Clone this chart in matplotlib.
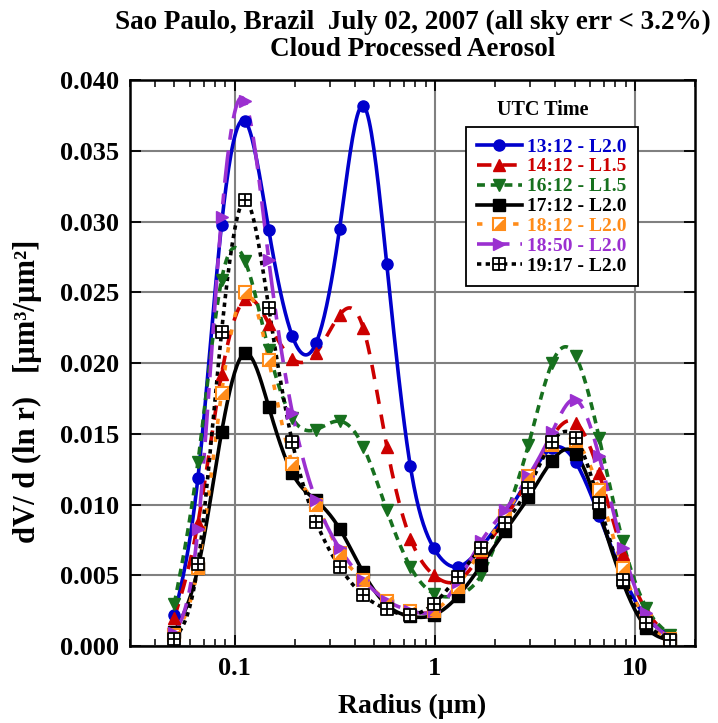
import matplotlib
matplotlib.use("Agg")
import matplotlib.pyplot as plt
import numpy as np
from matplotlib.path import Path
from matplotlib.ticker import FixedLocator, FixedFormatter, MultipleLocator, LogLocator, NullFormatter
from matplotlib.legend_handler import HandlerTuple

plt.rcParams['font.family'] = ['Liberation Serif', 'DejaVu Serif']
plt.rcParams['font.weight'] = 'bold'

# AERONET radius bins (um)
radius = [0.05, 0.065604, 0.086077, 0.112939, 0.148184, 0.194429, 0.255105, 0.334716,
          0.439173, 0.576227, 0.756052, 0.991996, 1.301571, 1.707757, 2.240702, 2.939966,
          3.857452, 5.06126, 6.640745, 8.713145, 11.432287, 15.0]

t1312 = [0.0022, 0.0119, 0.0298, 0.0371, 0.0294, 0.0219, 0.0214, 0.0295, 0.0382, 0.0270, 0.0127,
         0.0069, 0.0056, 0.0070, 0.0092, 0.0118, 0.0140, 0.0130, 0.0092, 0.0050, 0.0020, 0.0008]
t1412 = [0.0020, 0.0087, 0.0192, 0.0245, 0.0228, 0.0203, 0.0207, 0.0234, 0.0225, 0.0141, 0.0076,
         0.0050, 0.0046, 0.0065, 0.0090, 0.0118, 0.0148, 0.0158, 0.0122, 0.0065, 0.0025, 0.0007]
t1612 = [0.0030, 0.0130, 0.0259, 0.0272, 0.0209, 0.0161, 0.0153, 0.0159, 0.0141, 0.0096, 0.0056,
         0.0037, 0.0036, 0.0050, 0.0090, 0.0142, 0.0200, 0.0205, 0.0147, 0.0074, 0.0027, 0.0008]
t1712 = [0.0010, 0.0055, 0.0151, 0.0207, 0.0169, 0.0122, 0.0103, 0.0083, 0.0052, 0.0029, 0.0021,
         0.0022, 0.0035, 0.0057, 0.0081, 0.0105, 0.0131, 0.0136, 0.0095, 0.0045, 0.0013, 0.0004]
t1812 = [0.0008, 0.0055, 0.0179, 0.0250, 0.0202, 0.0129, 0.0100, 0.0066, 0.0047, 0.0032, 0.0025,
         0.0025, 0.0042, 0.0068, 0.0092, 0.0120, 0.0142, 0.0145, 0.0110, 0.0055, 0.0018, 0.0005]
t1850 = [0.0009, 0.0083, 0.0303, 0.0385, 0.0273, 0.0165, 0.0103, 0.0069, 0.0047, 0.0032, 0.0025,
         0.0025, 0.0045, 0.0074, 0.0096, 0.0120, 0.0151, 0.0174, 0.0134, 0.0069, 0.0023, 0.0006]
t1917 = [0.0005, 0.0058, 0.0222, 0.0315, 0.0239, 0.0144, 0.0088, 0.0056, 0.0036, 0.0026, 0.0022,
         0.0030, 0.0049, 0.0069, 0.0087, 0.0112, 0.0144, 0.0147, 0.0101, 0.0047, 0.0016, 0.0004]

labels = ["13:12 - L2.0", "14:12 - L1.5", "16:12 - L1.5", "17:12 - L2.0",
          "18:12 - L2.0", "18:50 - L2.0", "19:17 - L2.0"]


def spline(x, y, n=20):
    # natural cubic spline in log10(r), only used to draw the smooth curve
    t = np.log10(x)
    y = np.asarray(y)
    h = np.diff(t)
    m = len(t)
    A = np.zeros((m, m))
    b = np.zeros(m)
    A[0, 0] = A[-1, -1] = 1
    for i in range(1, m - 1):
        A[i, i - 1] = h[i - 1]
        A[i, i] = 2 * (h[i - 1] + h[i])
        A[i, i + 1] = h[i]
        b[i] = 6 * ((y[i + 1] - y[i]) / h[i] - (y[i] - y[i - 1]) / h[i - 1])
    M = np.linalg.solve(A, b)
    ts, ys = [], []
    for i in range(m - 1):
        s = np.linspace(t[i], t[i + 1], n, endpoint=False)
        a = (t[i + 1] - s) / h[i]
        c = (s - t[i]) / h[i]
        v = a * y[i] + c * y[i + 1] + ((a ** 3 - a) * M[i] + (c ** 3 - c) * M[i + 1]) * h[i] ** 2 / 6
        ts.extend(s)
        ys.extend(v)
    ts.append(t[-1])
    ys.append(y[-1])
    return 10 ** np.array(ts), np.array(ys)


grid_marker = Path([(-1, -1), (1, -1), (1, 1), (-1, 1), (-1, -1), (0, -1), (0, 1), (-1, 0), (1, 0)],
                   [Path.MOVETO, Path.LINETO, Path.LINETO, Path.LINETO, Path.CLOSEPOLY,
                    Path.MOVETO, Path.LINETO, Path.MOVETO, Path.LINETO])
half_marker = Path([(-1, -1), (1, -1), (1, 1), (-1, -1)],
                   [Path.MOVETO, Path.LINETO, Path.LINETO, Path.CLOSEPOLY])

fig = plt.figure(figsize=(7.18, 7.23), dpi=100)
ax = fig.add_axes([0.181, 0.1065, 0.787, 0.7825])

lw = 2.6
handles = []

# 13:12
xs, ys = spline(radius, t1312)
ax.plot(xs, ys, color='#0000cc', lw=lw, zorder=3)
ax.plot(radius, t1312, 'o', color='#0000cc', ms=8, zorder=4)
h, = ax.plot([], [], color='#0000cc', lw=lw, marker='o', ms=8)
handles.append(h)

# 14:12
xs, ys = spline(radius, t1412)
ax.plot(xs, ys, color='#cc0000', lw=lw, dashes=(4, 3), zorder=3)
ax.plot(radius, t1412, '^', color='#cc0000', ms=9, zorder=4)
h, = ax.plot([], [], color='#cc0000', lw=lw, dashes=(4, 3), marker='^', ms=9)
handles.append(h)

# 16:12
xs, ys = spline(radius, t1612)
ax.plot(xs, ys, color='#17701e', lw=lw, dashes=(2.2, 1.6), zorder=3)
ax.plot(radius, t1612, 'v', color='#17701e', ms=9, zorder=4)
h, = ax.plot([], [], color='#17701e', lw=lw, dashes=(2.2, 1.6), marker='v', ms=9)
handles.append(h)

# 17:12
xs, ys = spline(radius, t1712)
ax.plot(xs, ys, color='black', lw=lw, zorder=3)
ax.plot(radius, t1712, 's', color='black', ms=8, zorder=4)
h, = ax.plot([], [], color='black', lw=lw, marker='s', ms=8)
handles.append(h)

# 18:12
xs, ys = spline(radius, t1812)
ax.plot(xs, ys, color='#ff8c1a', lw=lw, dashes=(1.5, 3.5), zorder=3)
ax.plot(radius, t1812, 's', mfc='white', mec='#ff8c1a', mew=1.5, ms=8, zorder=4)
ax.plot(radius, t1812, marker=half_marker, ls='none', color='#ff8c1a', ms=6, zorder=5)
h1, = ax.plot([], [], color='#ff8c1a', lw=lw, dashes=(1.5, 3.5), marker='s', mfc='white',
              mec='#ff8c1a', mew=1.5, ms=8)
h2, = ax.plot([], [], marker=half_marker, ls='none', color='#ff8c1a', ms=6)
handles.append((h1, h2))

# 18:50
xs, ys = spline(radius, t1850)
ax.plot(xs, ys, color='#9b30d0', lw=lw, dashes=(9, 3, 3, 3), zorder=3)
ax.plot(radius, t1850, '>', color='#9b30d0', ms=9, zorder=4)
h, = ax.plot([], [], color='#9b30d0', lw=lw, dashes=(9, 3, 3, 3), marker='>', ms=9)
handles.append(h)

# 19:17
xs, ys = spline(radius, t1917)
ax.plot(xs, ys, color='black', lw=lw, dashes=(1.2, 1.2), zorder=3)
ax.plot(radius, t1917, marker=grid_marker, ls='none', mfc='white', mec='black', mew=1.3, ms=9, zorder=6)
h, = ax.plot([], [], color='black', lw=lw, dashes=(1.2, 1.2), marker=grid_marker,
             mfc='white', mec='black', mew=1.3, ms=9)
handles.append(h)

ax.set_xscale('log')
ax.set_xlim(0.03, 20)
ax.set_ylim(0, 0.04)

ax.xaxis.set_major_locator(FixedLocator([0.1, 1, 10]))
ax.xaxis.set_major_formatter(FixedFormatter(['0.1', '1', '10']))
ax.xaxis.set_minor_locator(LogLocator(base=10, subs=np.arange(2, 10)))
ax.xaxis.set_minor_formatter(NullFormatter())
ax.yaxis.set_major_locator(MultipleLocator(0.005))
ax.yaxis.set_major_formatter(plt.FuncFormatter(lambda v, p: f"{v:.3f}"))

ax.tick_params(which='both', direction='in', top=True, right=True, labelsize=19, pad=8)
ax.tick_params(which='major', length=8, width=1.3)
ax.tick_params(which='minor', length=5, width=1.1)
for lab in ax.get_xticklabels() + ax.get_yticklabels():
    lab.set_fontweight('bold')

ax.grid(True, which='major', color='#808080', lw=1.5, zorder=1)
for s in ax.spines.values():
    s.set_linewidth(1.8)

ax.set_xlabel('Radius (µm)', fontsize=20, fontweight='bold', labelpad=10)
ax.set_ylabel('dV/ d (ln r)   [µm³/µm²]', fontsize=22, fontweight='bold')
ax.yaxis.set_label_coords(-0.155, 0.45)
fig.suptitle('Sao Paulo, Brazil  July 02, 2007 (all sky err < 3.2%)\nCloud Processed Aerosol',
             x=0.575, y=0.987, fontsize=19.5, fontweight='bold', linespacing=1.15)

leg = ax.legend(handles, labels, loc='upper left', bbox_to_anchor=(0.595, 0.917),
                borderaxespad=0,
                handler_map={tuple: HandlerTuple(ndivide=1, pad=0)},
                prop={'size': 14, 'weight': 'bold'}, handlelength=2.3, handletextpad=0.3,
                labelspacing=0.12, borderpad=0.55, fancybox=False, framealpha=1,
                edgecolor='black')
leg.get_frame().set_linewidth(1.3)
colors = ['#0000cc', '#cc0000', '#17701e', 'black', '#ff8c1a', '#9b30d0', 'black']
for txt, c in zip(leg.get_texts(), colors):
    txt.set_color(c)
leg.set_zorder(10)
ax.text(0.73, 0.93, 'UTC Time', transform=ax.transAxes, ha='center', va='bottom',
        fontsize=14.5, fontweight='bold', zorder=10)

fig.savefig('out.png', dpi=100)
